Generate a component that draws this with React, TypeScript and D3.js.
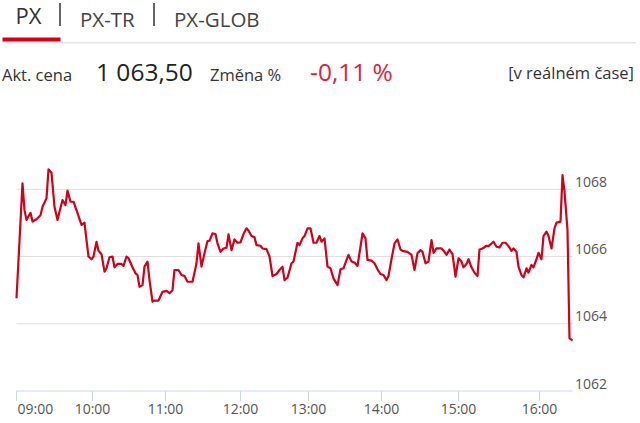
import React from "react";
import * as d3 from "d3";

// sample index (chart point order) and PX index values
const sampleIdx = [0,6,8,10,14,16,20,24,26,30,32,35,38,41,43,46,49,51,54,57,61,65,68,70,72,75,77,80,82,85,88,90,93,96,98,101,105,107,110,112,116,119,121,123,126,128,131,133,136,138,142,146,150,153,156,158,162,165,168,171,176,180,182,185,188,191,193,196,199,201,204,207,210,212,215,218,221,224,227,230,232,235,238,240,244,246,250,253,256,260,263,266,268,271,275,277,281,283,286,288,291,294,297,300,303,305,308,311,314,317,321,324,327,330,332,335,338,341,344,346,349,351,355,358,361,364,367,370,372,375,378,381,384,386,391,395,398,401,404,406,409,412,415,417,420,425,428,430,433,436,439,442,445,447,450,452,455,458,461,463,466,470,472,477,480,483,486,489,492,495,497,500,502,505,507,510,512,515,517,520,522,525,527,530,532,535,538,540,544,546,548,551,553,556];
const pxValues = [1064.76,1068.18,1067.38,1067.09,1067.30,1067.04,1067.11,1067.23,1067.48,1067.73,1068.59,1068.49,1067.48,1067.09,1067.33,1067.68,1067.53,1067.96,1067.63,1067.63,1067.29,1066.94,1067.01,1066.49,1066.0,1065.92,1066.0,1066.44,1066.17,1066.07,1065.55,1065.65,1065.98,1066.0,1065.68,1065.78,1065.78,1065.72,1066.0,1065.95,1065.68,1065.50,1065.45,1065.10,1065.15,1065.70,1065.85,1065.30,1064.66,1064.69,1064.69,1064.95,1064.98,1064.91,1065.0,1065.60,1065.60,1065.45,1065.42,1065.25,1065.25,1065.80,1066.39,1065.70,1066.10,1066.46,1066.47,1066.69,1066.67,1066.39,1066.14,1066.24,1066.26,1066.66,1066.19,1066.51,1066.41,1066.42,1066.67,1066.84,1066.77,1066.61,1066.57,1066.34,1066.32,1066.24,1066.22,1066.0,1065.42,1065.48,1065.60,1065.70,1065.30,1065.37,1065.80,1065.85,1066.41,1066.34,1066.54,1066.61,1066.84,1066.84,1066.41,1066.41,1066.61,1066.44,1066.54,1065.70,1065.65,1065.35,1065.15,1065.62,1065.65,1065.90,1066.05,1065.85,1065.82,1065.72,1066.29,1066.69,1066.54,1065.90,1065.88,1065.80,1065.62,1065.48,1065.45,1065.30,1065.42,1065.92,1066.39,1066.51,1066.21,1066.17,1066.14,1066.05,1065.60,1066.10,1066.19,1066.14,1065.80,1065.85,1066.49,1066.11,1066.24,1066.24,1066.14,1066.05,1066.21,1066.07,1065.40,1065.95,1065.85,1065.68,1065.78,1065.92,1065.68,1065.52,1065.42,1066.21,1066.24,1066.32,1066.31,1066.44,1066.29,1066.27,1066.41,1066.41,1066.31,1066.17,1066.24,1066.14,1065.70,1065.45,1065.38,1065.65,1065.52,1065.75,1065.68,1065.92,1066.11,1065.92,1066.61,1066.74,1066.61,1066.24,1066.84,1067.01,1067.04,1068.42,1067.93,1066.79,1063.57,1063.50];

const hourLabels = ["09:00","10:00","11:00","12:00","13:00","14:00","15:00","16:00"];
const hourTickIdx = [0,76,149,224,292,365,442,523];
const yTicks = [1062,1064,1066,1068];

const tabs = ["PX","PX-TR","PX-GLOB"];
const priceLabel = "Akt. cena";
const priceValue = "1 063,50";
const changeLabel = "Změna %";
const changeValue = "-0,11 %";
const realtimeLabel = "[v reálném čase]";

const RED = "#d0021b";
const FONT = "'Open Sans', sans-serif";

export default function App() {
  const x = d3.scaleLinear().domain([0, 556]).range([16.5, 572.5]);
  const y = d3.scaleLinear().domain([1062, 1068]).range([391, 189.3]);
  const pts: [number, number][] = sampleIdx.map((s, i) => [s, pxValues[i]]);
  const line = d3.line<[number, number]>().x(d => x(d[0])).y(d => y(d[1])).curve(d3.curveLinear);
  const [x0, x1] = x.range();

  return (
    <svg width={640} height={423} style={{ position: "absolute", left: 0, top: 0, background: "#fff" }} fontFamily={FONT}>
      {/* tabs */}
      <text x={15.5} y={23.5} fontSize={22} fill="#333">{tabs[0]}</text>
      <line x1={60} x2={60} y1={3} y2={26} stroke="#333" strokeWidth={1.5} />
      <text x={80} y={26.5} fontSize={20.5} fill="#444">{tabs[1]}</text>
      <line x1={154} x2={154} y1={3} y2={26} stroke="#333" strokeWidth={1.5} />
      <text x={174} y={26.5} fontSize={20.5} fill="#444">{tabs[2]}</text>
      <rect x={2} y={42} width={634} height={1.5} fill="#e6e6e6" />
      <rect x={2.5} y={37.5} width={58} height={4} fill={RED} />

      {/* price row */}
      <text x={2} y={81} fontSize={16.5} fill="#333">{priceLabel}</text>
      <text x={96} y={81} fontSize={24.5} fill="#222">{priceValue}</text>
      <text x={210} y={81} fontSize={16.5} fill="#333">{changeLabel}</text>
      <text x={310} y={81} fontSize={24.5} fill="#d42543">{changeValue}</text>
      <text x={634} y={78.5} fontSize={16.5} fill="#333" textAnchor="end">{realtimeLabel}</text>

      {/* grid */}
      {yTicks.filter(t => t !== 1062).map(t => (
        <line key={t} x1={x0} x2={x1} y1={y(t)} y2={y(t)} stroke="#e0e0e0" strokeWidth={1} />
      ))}
      {yTicks.map(t => (
        <text key={"l" + t} x={575} y={y(t) - 2.5} fontSize={14} fill="#555">{t}</text>
      ))}

      {/* x axis */}
      <line x1={x0} x2={x1} y1={y(1062)} y2={y(1062)} stroke="#ccd6eb" strokeWidth={1} />
      {hourTickIdx.map((t, i) => (
        <g key={"t" + i}>
          <line x1={x(t)} x2={x(t)} y1={y(1062)} y2={y(1062) + 10} stroke="#ccd6eb" strokeWidth={1} />
          <text x={i === 0 ? x(t) + 1 : x(t)} y={413.5} fontSize={14} fill="#555" textAnchor={i === 0 ? "start" : "middle"}>{hourLabels[i]}</text>
        </g>
      ))}

      {/* series */}
      <path d={line(pts) || ""} fill="none" stroke={RED} strokeWidth={2.2} strokeLinejoin="round" />
    </svg>
  );
}
